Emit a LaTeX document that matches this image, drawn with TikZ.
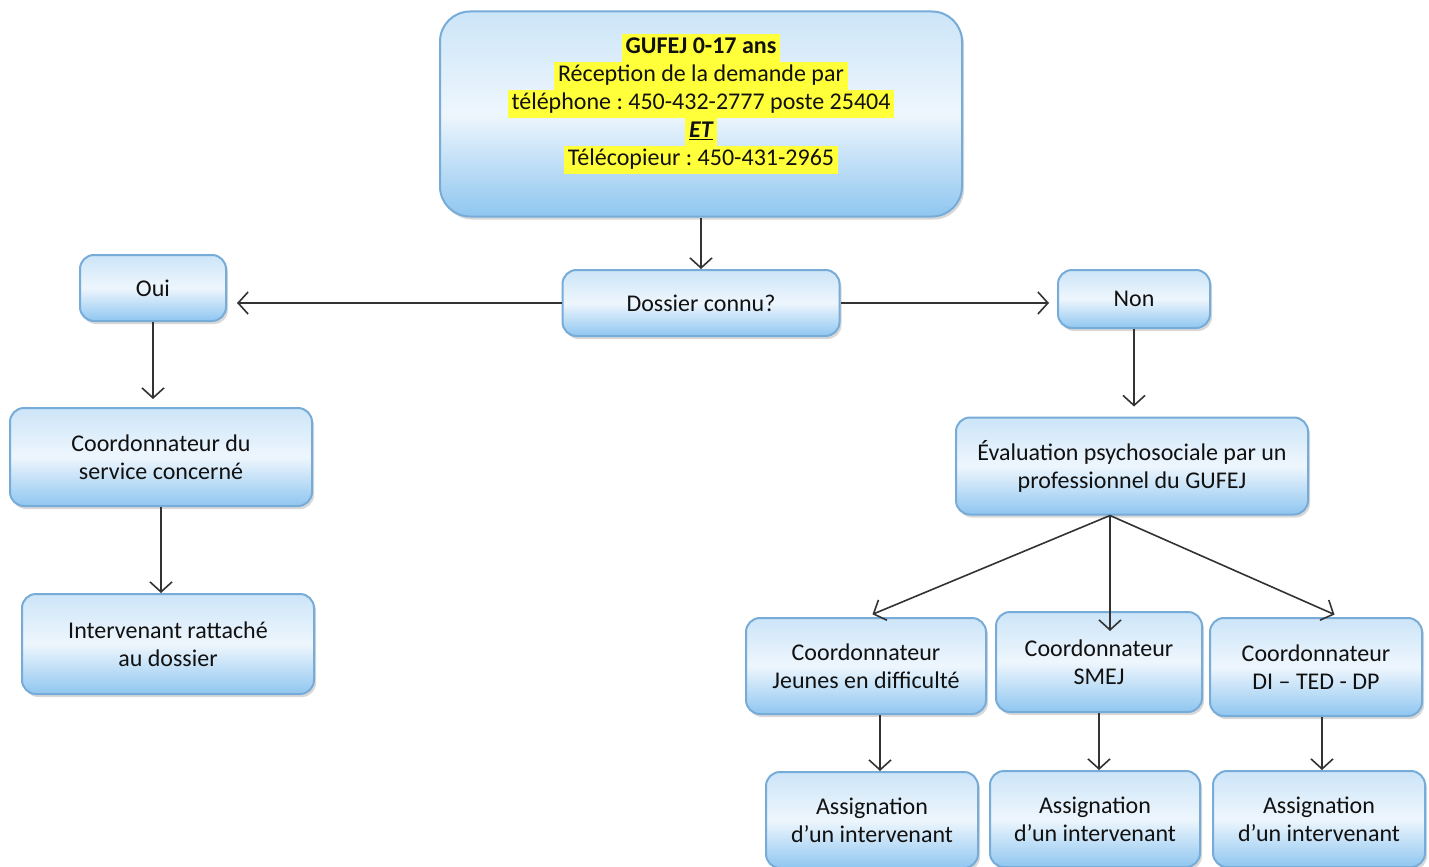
\documentclass[tikz,border=0pt]{standalone}
\usepackage{fontspec}
\setmainfont{Carlito}
\usetikzlibrary{arrows.meta,shadows}
\definecolor{boxtop}{HTML}{CCE5F8}
\definecolor{boxmid}{HTML}{EEF6FD}
\definecolor{boxbot}{HTML}{8FC6F0}
\definecolor{boxline}{HTML}{78ACD8}
\definecolor{arrcol}{HTML}{333333}
\definecolor{hlyellow}{HTML}{FFFF3A}
\definecolor{txt}{HTML}{111111}
\newcommand\hlline[1]{{\fboxsep=0pt\colorbox{hlyellow}{\strut\kern4pt#1\kern4pt}}}
\frenchspacing
\begin{document}
\begin{tikzpicture}[x=1pt,y=-1pt,
  box/.style={draw=boxline, line width=2pt, rounded corners=14pt,
    top color=boxtop, bottom color=boxbot, middle color=boxmid,
    drop shadow={opacity=0.3, shadow xshift=2pt, shadow yshift=-3pt},
    align=center, text=txt, font=\fontsize{24}{28}\selectfont\frenchspacing, inner sep=0pt},
  arr/.style={draw=arrcol, line width=1.6pt,
    -{Straight Barb[length=10pt,width=22pt,line width=1.6pt]}}]
\useasboundingbox[fill=white] (0,0) rectangle (1429,867);

\node[box, rounded corners=30pt, minimum width=522pt, minimum height=205pt] (top) at (701,114)
 {\begin{tabular}{@{}c@{}}
  \hlline{\textbf{GUFEJ 0-17 ans}}\\
  \hlline{Réception de la demande par}\\
  \hlline{téléphone : 450-432-2777 poste 25404}\\
  \hlline{\textbf{\textit{\underline{ET}}}}\\
  \hlline{Télécopieur : 450-431-2965}\\[20pt]
  \end{tabular}};

\node[box, minimum width=277pt, minimum height=66pt] (dossier) at (701,303) {Dossier connu?};
\node[box, minimum width=146pt, minimum height=66pt] (oui) at (153,288) {Oui};
\node[box, minimum width=152pt, minimum height=58pt] (non) at (1134,299) {Non};
\node[box, minimum width=302pt, minimum height=98pt] (coord) at (161,457) {Coordonnateur du\\service concerné};
\node[box, minimum width=292pt, minimum height=100pt] (interv) at (168,644) {Intervenant rattaché\\au dossier};
\node[box, minimum width=352pt, minimum height=97pt] (eval) at (1132,466) {Évaluation psychosociale par un\\professionnel du GUFEJ};
\node[box, minimum width=240pt, minimum height=96pt] (jeunes) at (866,666) {Coordonnateur\\Jeunes en difficulté};
\node[box, minimum width=206pt, minimum height=100pt] (smej) at (1099,662) {Coordonnateur\\SMEJ};
\node[box, minimum width=212pt, minimum height=98pt] (di) at (1316,667) {Coordonnateur\\DI – TED - DP};
\node[box, minimum width=212pt, minimum height=96pt] (as1) at (872,820) {Assignation\\d’un intervenant};
\node[box, minimum width=210pt, minimum height=96pt] (as2) at (1095,819) {Assignation\\d’un intervenant};
\node[box, minimum width=212pt, minimum height=96pt] (as3) at (1319,819) {Assignation\\d’un intervenant};

\draw[arr] (top.south) -- (dossier.north);
\draw[arr, shorten >=10pt] (dossier.west) -- (dossier.west -| oui.east);
\draw[arr, shorten >=8pt] (dossier.east) -- (dossier.east -| non.west);
\draw[arr, shorten >=8pt] (oui.south) -- (oui.south |- coord.north);
\draw[arr] (coord.south) -- (coord.south |- interv.north);
\draw[arr, shorten >=10pt] (non.south) -- (non.south |- eval.north);
\coordinate (evb) at ([xshift=-22pt]eval.south);
\draw[arr, shorten >=7pt] (evb) -- (jeunes.north);
\draw[arr] (evb) -- ([yshift=-20pt]smej.north -| evb);
\draw[arr, shorten >=6pt] (evb) -- ([xshift=24pt]di.north);
\draw[arr] ([xshift=14pt]jeunes.south) -- ([xshift=14pt]jeunes.south |- as1.north);
\draw[arr] (smej.south) -- (smej.south |- as2.north);
\draw[arr] ([xshift=6pt]di.south) -- ([xshift=6pt]di.south |- as3.north);
\end{tikzpicture}
\end{document}
